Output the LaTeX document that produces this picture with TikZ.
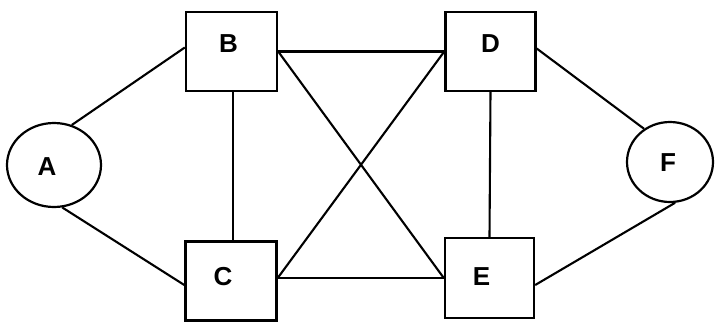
\documentclass[tikz,border=0pt]{standalone}
\usepackage{fontspec}
\setmainfont{Liberation Sans}
\usetikzlibrary{shapes.geometric}
\begin{document}
\begin{tikzpicture}[x=1pt,y=-1pt,
  box/.style={draw, line width=2.4pt, minimum width=91pt, minimum height=79pt, inner sep=0pt},
  oval/.style={draw, ellipse, line width=2.2pt, inner sep=0pt},
  conn/.style={line width=2.1pt},
  lbl/.style={font=\fontsize{26}{26}\selectfont\bfseries}]
\useasboundingbox (0,0) rectangle (715,322);
\node[oval, minimum width=94pt, minimum height=84pt,
  label={[lbl, xshift=-7pt, yshift=-2pt]center:A}] (A) at (54,165) {};
\node[oval, minimum width=86pt, minimum height=80pt,
  label={[lbl, xshift=-2pt, yshift=-1pt]center:F}] (F) at (670,162) {};
\node[box, label={[lbl, xshift=-3pt, yshift=8pt]center:B}] (B) at (231.5,51.5) {};
\node[box, label={[lbl, xshift=-8pt, yshift=4pt]center:C}] (C) at (231,281) {};
\node[box, minimum width=90pt, label={[lbl, xshift=0pt, yshift=8pt]center:D}] (D) at (490.5,51.5) {};
\node[box, minimum width=89pt, minimum height=80pt, label={[lbl, xshift=-8pt, yshift=1pt]center:E}] (E) at (489.5,278) {};
\draw[conn] (A.66) -- ([yshift=4pt]B.west);
\draw[conn] (A.-79) -- ([yshift=-4pt]C.west);
\draw[conn] ([xshift=1.5pt]B.south) -- ([xshift=2pt]C.north);
\draw[conn] (B.east) -- (D.west);
\draw[conn] (B.east) -- (E.west);
\draw[conn] ([yshift=3pt]C.east) -- (D.west);
\draw[conn] ([yshift=3pt]C.east) -- (E.west);
\draw[conn] (D.south) -- (E.north);
\draw[conn] ([yshift=3pt]D.east) -- (F.128);
\draw[conn] ([yshift=-7pt]E.east) -- (F.-83);
\end{tikzpicture}
\end{document}
